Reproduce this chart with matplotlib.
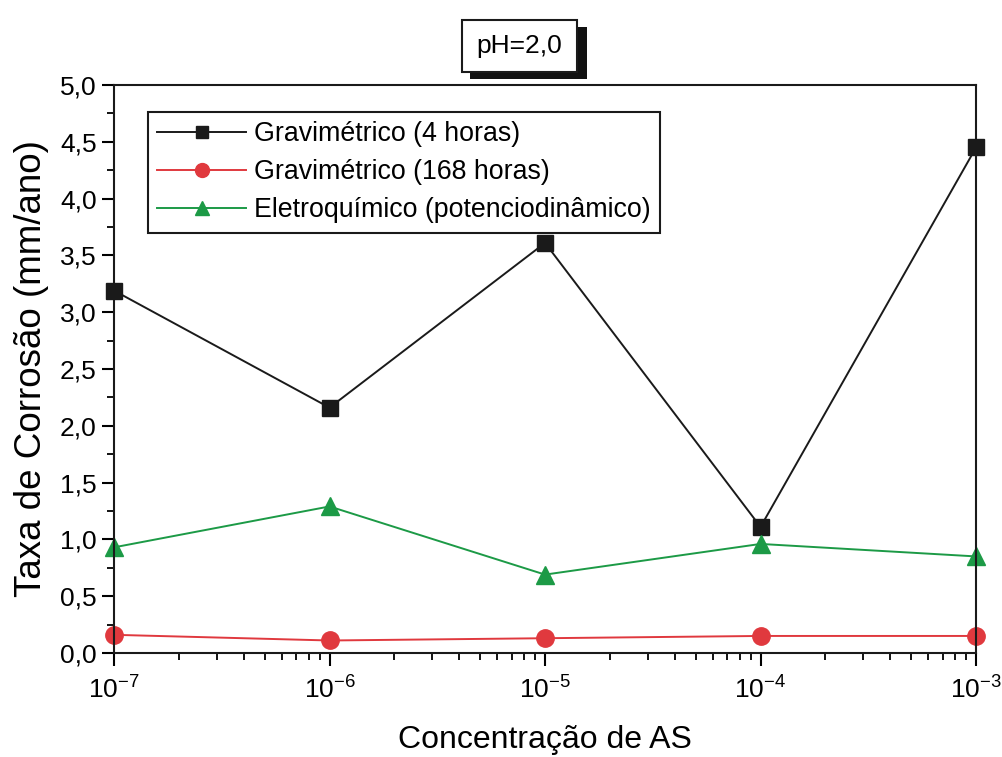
import numpy as np
import matplotlib.pyplot as plt
from matplotlib.patches import Rectangle
from matplotlib.ticker import FixedLocator, FuncFormatter, LogLocator, NullFormatter

plt.rcParams['font.family'] = ['Liberation Sans', 'DejaVu Sans']
plt.rcParams['mathtext.default'] = 'regular'

conc = [1e-7, 1e-6, 1e-5, 1e-4, 1e-3]
grav_4h = [3.19, 2.16, 3.61, 1.11, 4.45]
grav_168h = [0.16, 0.11, 0.13, 0.15, 0.15]
eletroq = [0.93, 1.29, 0.69, 0.96, 0.85]
x_ticklabels = ['10$^{-7}$', '10$^{-6}$', '10$^{-5}$', '10$^{-4}$', '10$^{-3}$']

fig = plt.figure(figsize=(10.02, 7.57), dpi=100)
ax = fig.add_axes([0.1138, 0.1374, 0.8603, 0.7503])

ax.plot(conc, grav_4h, color='#1a1a1a', lw=1.4, marker='s', ms=11, clip_on=False,
        label='Gravimétrico (4 horas)')
ax.plot(conc, grav_168h, color='#e0393e', lw=1.4, marker='o', ms=12.5, clip_on=False,
        label='Gravimétrico (168 horas)')
ax.plot(conc, eletroq, color='#1c9a46', lw=1.4, marker='^', ms=13, clip_on=False,
        label='Eletroquímico (potenciodinâmico)')

ax.set_xscale('log')
ax.set_xlim(1e-7, 1e-3)
ax.set_ylim(0, 5)
ax.set_xticks(conc)
ax.set_xticklabels(x_ticklabels)
ax.xaxis.set_minor_locator(LogLocator(base=10, subs=np.arange(2, 10)))
ax.xaxis.set_minor_formatter(NullFormatter())
ax.yaxis.set_major_locator(FixedLocator(np.arange(0, 5.01, 0.5)))
ax.yaxis.set_minor_locator(FixedLocator(np.arange(0.25, 5, 0.5)))
ax.yaxis.set_major_formatter(FuncFormatter(lambda v, p: f'{v:.1f}'.replace('.', ',')))

ax.tick_params(which='major', direction='out', length=9, width=1.5, labelsize=19,
               top=False, right=False)
ax.tick_params(which='minor', direction='out', length=5, width=1.3,
               top=False, right=False)
ax.tick_params(axis='x', which='major', pad=8, labelsize=19)
for s in ax.spines.values():
    s.set_linewidth(1.5)
    s.set_color('#1a1a1a')

ax.set_xlabel('Concentração de AS', fontsize=23, labelpad=15)
ax.set_ylabel('Taxa de Corrosão (mm/ano)', fontsize=26.5, labelpad=8)

leg = ax.legend(loc='upper left', bbox_to_anchor=(0.0394, 0.9525), borderaxespad=0,
                fontsize=19.3, frameon=True, fancybox=False, edgecolor='#1a1a1a',
                framealpha=1, markerscale=0.8, handlelength=3.3, borderpad=0.35,
                labelspacing=0.45, handletextpad=0.3)
leg.get_frame().set_linewidth(1.5)

# title box with drop shadow
fig.patches.append(Rectangle((470 / 1002, 1 - 79 / 757), 117 / 1002, 52 / 757,
                             transform=fig.transFigure, facecolor='#111111',
                             edgecolor='none', zorder=1))
fig.patches.append(Rectangle((462 / 1002, 1 - 72 / 757), 115 / 1002, 52 / 757,
                             transform=fig.transFigure, facecolor='white',
                             edgecolor='#1a1a1a', linewidth=1.5, zorder=2))
fig.text(519.5 / 1002, 1 - 46 / 757, 'pH=2,0', ha='center', va='center',
         fontsize=19, zorder=3)

fig.savefig('out.png', dpi=100)
